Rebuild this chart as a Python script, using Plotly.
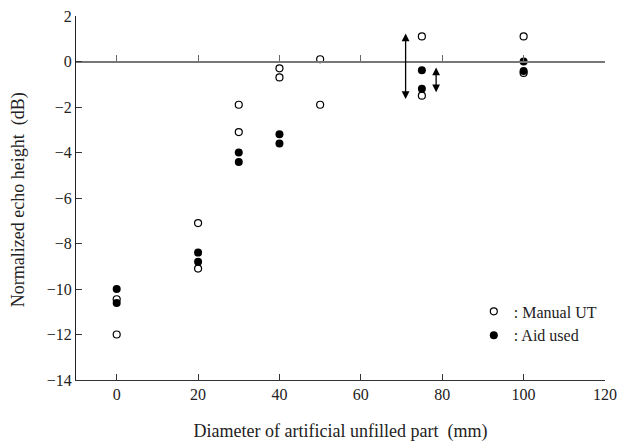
import plotly.graph_objects as go

manual_x = [0, 0, 20, 20, 30, 30, 40, 40, 50, 50, 75, 75, 100, 100]
manual_y = [-10.45, -12.0, -7.1, -9.1, -1.9, -3.1, -0.3, -0.7, 0.1, -1.9, 1.1, -1.5, 1.1, -0.5]
aid_x = [0, 0, 20, 20, 30, 30, 40, 40, 75, 75, 100, 100]
aid_y = [-10.0, -10.62, -8.4, -8.8, -4.0, -4.42, -3.2, -3.6, -0.38, -1.2, 0.0, -0.42]

# double arrows: (x, y_top, y_bottom)
arrows = [(71, 1.3, -1.65), (78.5, -0.2, -1.35)]

x_ticks = [0, 20, 40, 60, 80, 100, 120]
y_ticks = [2, 0, -2, -4, -6, -8, -10, -12, -14]

x_title = "Diameter of artificial unfilled part  (mm)"
y_title = "Normalized echo height  (dB)"

font_family = "Liberation Serif"

fig = go.Figure()
fig.add_trace(go.Scatter(
    x=manual_x, y=manual_y, mode="markers", name=": Manual UT",
    marker=dict(symbol="circle-open", size=7, color="black", line=dict(width=1.2, color="black")),
))
fig.add_trace(go.Scatter(
    x=aid_x, y=aid_y, mode="markers", name=": Aid used",
    marker=dict(symbol="circle", size=8, color="black"),
))
# invisible trace on xaxis2 to activate the zero-line axis
fig.add_trace(go.Scatter(x=[None], y=[None], xaxis="x2", showlegend=False, hoverinfo="skip"))

for ax_x, y1, y2 in arrows:
    fig.add_annotation(
        x=ax_x, y=y2, ax=ax_x, ay=y1, xref="x", yref="y", axref="x", ayref="y",
        showarrow=True, arrowhead=2, startarrowhead=2, arrowside="end+start",
        arrowsize=1.2, startarrowsize=1.2, arrowwidth=1.3, arrowcolor="black", text="",
    )

# y axis title as a rotated annotation for precise placement
fig.add_annotation(
    text=y_title, textangle=-90, xref="paper", yref="paper",
    x=-0.109, y=0.495, xanchor="center", yanchor="middle", showarrow=False,
    font=dict(family=font_family, size=18, color="#222"),
)

fig.update_layout(
    width=619, height=448,
    margin=dict(l=76, r=14, t=16, b=68, autoexpand=False),
    paper_bgcolor="white", plot_bgcolor="white",
    font=dict(family=font_family, size=16, color="#222"),
    showlegend=True,
    legend=dict(x=0.752, y=0.235, xanchor="left", yanchor="top",
                font=dict(family=font_family, size=16, color="#222"),
                bgcolor="rgba(0,0,0,0)", itemwidth=30, tracegroupgap=0),
    xaxis=dict(range=[-10, 120], tickvals=x_ticks, ticks="inside", ticklen=6,
               tickcolor="#333", showline=True, linecolor="#333", linewidth=1.2,
               showgrid=False, zeroline=False, mirror=False, automargin=False,
               ticklabeloverflow="allow",
               title=dict(text=x_title,
                          font=dict(family=font_family, size=18), standoff=22),
               tickfont=dict(family=font_family, size=16)),
    xaxis2=dict(overlaying="x", matches="x", anchor="free", position=0.875,
                tickvals=x_ticks, ticks="inside", ticklen=6, tickcolor="#666",
                showline=True, linecolor="#777", linewidth=1.5, showticklabels=False,
                showgrid=False, zeroline=False, automargin=False),
    yaxis=dict(range=[-14, 2], tickvals=y_ticks, ticks="inside", ticklen=6,
               tickcolor="#333", showline=True, linecolor="#222", linewidth=1.2,
               showgrid=False, zeroline=False, automargin=False,
               ticklabeloverflow="allow",
               tickfont=dict(family=font_family, size=16)),
)

# remove the default 8px page margin so the 619x448 figure fills the window exactly
fig.write_html(
    "out.html",
    config={"displayModeBar": False},
    post_script="document.body.style.margin='0';document.body.style.overflow='hidden';",
)
